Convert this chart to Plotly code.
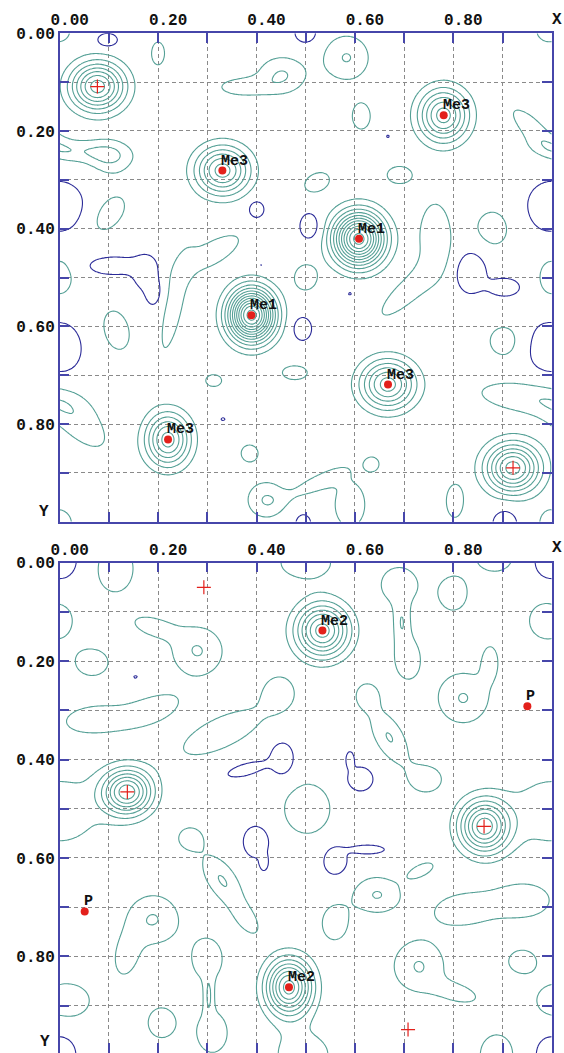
import numpy as np
import plotly.graph_objects as go

# ---------------- data ----------------
# Each density feature: centre (x, y), peak height (in contour levels, +/-),
# outer-contour semi-axes (rx, ry) and tilt angle (deg)
TOP_X = [0.077, 0.331, 0.390, 0.220, 0.780, 0.608, 0.667, 0.921, 0.995, 0.097,
         0.200, 0.452, 0.370, 0.500, 0.583, 0.613, 0.960, 0.040, 0.105, 0.667,
         0.690, 0.523, 0.000, 0.100, 0.400, 0.508, 0.110, 0.175, 0.190, 0.310,
         0.232, 0.000, 0.410, 0.996, 0.115, 0.313, 0.478, 0.590, 0.332, 0.040,
         0.930, 0.386, 0.420, 0.000, 0.590, 0.525, 0.635, 0.803, 0.905, 0.495,
         0.763, 0.705, 0.880, 0.835, 0.905, 0.905, 0.500, 0.493]
TOP_Y = [0.109, 0.281, 0.577, 0.832, 0.168, 0.421, 0.719, 0.890, -0.005, 0.014,
         0.041, 0.085, 0.110, 0.000, 0.050, 0.170, 0.195, 0.240, 0.255, 0.211,
         0.290, 0.305, 0.355, 0.370, 0.361, 0.395, 0.476, 0.490, 0.530, 0.450,
         0.560, 0.500, 0.474, 0.645, 0.608, 0.711, 0.695, 0.533, 0.790, 0.795,
         0.745, 0.860, 0.955, 1.005, 0.965, 0.920, 0.882, 0.958, 1.005, 1.005,
         0.415, 0.530, 0.400, 0.488, 0.520, 0.630, 0.500, 0.605]
TOP_H = [7.5, 6.5, 12.5, 6.5, 6.5, 11.5, 6.5, 7.5, 1.6, -2.5,
         1.6, 2.05, 1.6, -2.5, 2.05, 1.6, 1.6, 1.6, 1.6, -1.3,
         1.6, 1.6, -2.5, 1.6, -2.5, -2.5, -2.5, -2.5, -2.5, 1.6,
         1.6, 1.6, -1.3, -2.5, 1.6, 1.6, 1.6, -1.3, -1.3, 1.6,
         1.6, 1.6, 2.05, 1.6, 1.6, 1.6, 1.6, 1.6, -2.5, -2.5,
         1.6, 1.6, 1.6, -2.5, -2.5, 1.6, 1.6, -2.5]
TOP_RX = [0.076, 0.073, 0.072, 0.060, 0.067, 0.078, 0.074, 0.077, 0.025, 0.021,
          0.013, 0.045, 0.040, 0.022, 0.044, 0.018, 0.050, 0.060, 0.032, 0.003,
          0.024, 0.026, 0.050, 0.040, 0.016, 0.020, 0.050, 0.025, 0.014, 0.060,
          0.085, 0.024, 0.003, 0.048, 0.025, 0.016, 0.025, 0.004, 0.004, 0.065,
          0.072, 0.017, 0.037, 0.024, 0.030, 0.045, 0.013, 0.017, 0.025, 0.016,
          0.065, 0.065, 0.030, 0.033, 0.030, 0.030, 0.022, 0.019]
TOP_RY = [0.068, 0.066, 0.082, 0.072, 0.072, 0.082, 0.067, 0.070, 0.022, 0.014,
          0.023, 0.035, 0.015, 0.020, 0.044, 0.026, 0.018, 0.017, 0.028, 0.0025,
          0.017, 0.018, 0.052, 0.024, 0.018, 0.027, 0.018, 0.035, 0.025, 0.022,
          0.016, 0.035, 0.003, 0.055, 0.040, 0.012, 0.014, 0.003, 0.003, 0.030,
          0.025, 0.017, 0.035, 0.028, 0.045, 0.013, 0.013, 0.033, 0.030, 0.020,
          0.030, 0.020, 0.034, 0.045, 0.018, 0.029, 0.025, 0.024]
TOP_ANG = [0, 0, 0, 0, 0, 0, 0, 0, 0, 0,
           0, 0, 0, 0, 0, 0, 45, 5, 0, 0,
           0, -25, 0, -50, 0, 0, 0, 0, 0, -30,
           102, 0, 0, 0, -15, 0, 0, 0, 0, 45,
           8, 0, 0, 0, 0, -25, 0, 0, 0, 0,
           90, 137, 0, 0, 0, 0, 0, 0]

BOT_X = [0.534, 0.1375, 0.8625, 0.466, 0.000, 0.113, 0.990, 0.280, 0.190, 0.066,
         0.154, 0.445, 0.070, 0.190, 0.330, 0.078, 0.452, 0.380, 0.000, 0.503,
         0.265, 0.330, 0.380, 0.400, 0.415, 0.190, 0.135, 0.300, 0.310, 0.303,
         0.015, 0.207, 0.000, 0.495, 0.500, 0.690, 0.707, 0.695, 0.800, 0.885,
         0.820, 0.875, 0.625, 0.670, 0.745, 0.610, 0.590, 0.560, 0.625, 0.645,
         0.735, 0.820, 0.945, 0.559, 0.730, 0.810, 0.940, 0.888]
BOT_Y = [0.138, 0.466, 0.536, 0.863, -0.005, 0.012, 0.118, 0.180, 0.130, 0.203,
         0.232, 0.262, 0.318, 0.298, 0.345, 0.400, 0.400, 0.420, 0.505, 0.500,
         0.560, 0.645, 0.725, 0.567, 0.610, 0.725, 0.800, 0.805, 0.955, 0.880,
         0.890, 0.935, 1.000, 1.000, 0.000, 0.045, 0.195, 0.120, 0.063, -0.015,
         0.275, 0.200, 0.270, 0.355, 0.440, 0.440, 0.400, 0.605, 0.583, 0.675,
         0.625, 0.705, 0.687, 0.733, 0.820, 0.875, 0.810, 1.000]
BOT_H = [7.5, 7.5, 7.5, 8.5, -2.5, 1.6, 1.6, 2.05, 1.6, 1.6,
         -1.3, 1.6, 1.6, 1.6, 1.6, -1.3, -2.5, -2.5, 1.6, 1.6,
         1.6, 2.05, 1.6, -2.5, -2.5, 2.05, 1.6, 1.6, 1.6, 1.6,
         1.6, 1.6, -2.5, 1.6, 1.6, 1.6, 1.6, 1.6, 1.6, 1.6,
         2.05, 1.6, 1.6, 2.05, 1.6, -2.5, -2.5, -2.5, -2.5, 2.05,
         1.6, 1.6, 1.6, 1.6, 2.05, 1.6, 1.6, 1.6]
BOT_RX = [0.074, 0.069, 0.069, 0.066, 0.037, 0.036, 0.035, 0.050, 0.035, 0.032,
          0.004, 0.025, 0.055, 0.050, 0.085, 0.004, 0.025, 0.040, 0.070, 0.046,
          0.022, 0.055, 0.030, 0.027, 0.008, 0.050, 0.020, 0.030, 0.030, 0.007,
          0.045, 0.027, 0.033, 0.050, 0.050, 0.036, 0.025, 0.012, 0.027, 0.037,
          0.050, 0.014, 0.020, 0.055, 0.030, 0.027, 0.008, 0.025, 0.035, 0.045,
          0.025, 0.055, 0.048, 0.025, 0.050, 0.035, 0.027, 0.033]
BOT_RY = [0.074, 0.063, 0.073, 0.080, 0.040, 0.047, 0.036, 0.048, 0.016, 0.026,
          0.003, 0.027, 0.025, 0.023, 0.030, 0.003, 0.035, 0.012, 0.060, 0.050,
          0.020, 0.027, 0.015, 0.033, 0.015, 0.048, 0.035, 0.040, 0.040, 0.030,
          0.034, 0.030, 0.040, 0.040, 0.030, 0.035, 0.040, 0.030, 0.033, 0.032,
          0.050, 0.028, 0.022, 0.027, 0.025, 0.025, 0.016, 0.030, 0.009, 0.035,
          0.011, 0.030, 0.030, 0.033, 0.050, 0.015, 0.022, 0.040]
BOT_ANG = [0, 0, 0, 0, 0, 0, 0, 0, 15, 0,
           0, 0, -5, -20, -25, 0, 0, -15, 0, 0,
           0, 55, 55, 0, 0, 0, 10, 0, 0, 0,
           0, 0, 0, 0, 0, 0, 0, 0, 0, 0,
           0, 0, 0, 60, 0, 0, 0, 0, 0, 0,
           -25, -5, 0, 0, 0, 15, 0, 0]

# Atom sites (red dots with labels) and red crosses
TOP_ATOM_LBL = ["Me3", "Me3", "Me1", "Me1", "Me3", "Me3"]
TOP_ATOM_X = [0.7805, 0.3306, 0.6084, 0.3896, 0.6673, 0.2202]
TOP_ATOM_Y = [0.168, 0.281, 0.4206, 0.5774, 0.7192, 0.8316]
TOP_CROSS_X = [0.0766, 0.9214]
TOP_CROSS_Y = [0.109, 0.8896]

BOT_ATOM_LBL = ["Me2", "P", "P", "Me2"]
BOT_ATOM_X = [0.534, 0.9505, 0.0508, 0.466]
BOT_ATOM_Y = [0.138, 0.292, 0.7087, 0.863]
BOT_CROSS_X = [0.293, 0.1375, 0.8625, 0.708]
BOT_CROSS_Y = [0.050, 0.466, 0.536, 0.949]

TICK_VALS = [0.0, 0.1, 0.2, 0.3, 0.4, 0.5, 0.6, 0.7, 0.8, 0.9, 1.0]
TICK_TEXT = ["0.00", "", "0.20", "", "0.40", "", "0.60", "", "0.80", "", ""]

for arrs in [(TOP_X, TOP_Y, TOP_H, TOP_RX, TOP_RY, TOP_ANG),
             (BOT_X, BOT_Y, BOT_H, BOT_RX, BOT_RY, BOT_ANG)]:
    assert len(set(len(a) for a in arrs)) == 1, [len(a) for a in arrs]

# ---------------- style ----------------
TEAL = "#55a096"
NAVY = "#2b2b98"
FRAME = "#4646aa"
RED = "#e3201b"
GRID = "#8a8a8a"
FONT = "Liberation Mono"

W, H = 564, 1053
XL, XR = 59.7, 551.7
TOP_T, TOP_B = 33.3, 521.7
BOT_T = 562.7


def density(px, py, ph, rx, ry, ang, n=321):
    g = np.linspace(0.0, 1.0, n)
    X, Y = np.meshgrid(g, g)
    Z = np.zeros_like(X)
    for x0, y0, h, a, b, t in zip(px, py, ph, rx, ry, ang):
        f = np.sqrt(2.0 * np.log(abs(h)))  # outer contour radius -> sigma
        sa, sb = a / f, b / f
        dx = (X - x0 + 0.5) % 1.0 - 0.5
        dy = Y - y0
        th = np.deg2rad(t)
        u = dx * np.cos(th) + dy * np.sin(th)
        v = -dx * np.sin(th) + dy * np.cos(th)
        Z += h * np.exp(-0.5 * ((u / sa) ** 2 + (v / sb) ** 2))
    return g, Z


fig = go.Figure()

panels = [
    ("x", "y", (TOP_X, TOP_Y, TOP_H, TOP_RX, TOP_RY, TOP_ANG),
     TOP_ATOM_LBL, TOP_ATOM_X, TOP_ATOM_Y, TOP_CROSS_X, TOP_CROSS_Y),
    ("x2", "y2", (BOT_X, BOT_Y, BOT_H, BOT_RX, BOT_RY, BOT_ANG),
     BOT_ATOM_LBL, BOT_ATOM_X, BOT_ATOM_Y, BOT_CROSS_X, BOT_CROSS_Y),
]

for xa, ya, feats, lbl, ax_, ay_, cx, cy in panels:
    g, Z = density(*feats)
    fig.add_trace(go.Contour(
        x=g, y=g, z=Z, xaxis=xa, yaxis=ya,
        contours=dict(start=1, end=20, size=1, coloring="lines"),
        colorscale=[[0, TEAL], [1, TEAL]], showscale=False,
        line=dict(width=1.1), hoverinfo="skip"))
    fig.add_trace(go.Contour(
        x=g, y=g, z=Z, xaxis=xa, yaxis=ya,
        contours=dict(start=-1, end=-1, size=1, coloring="lines"),
        colorscale=[[0, NAVY], [1, NAVY]], showscale=False,
        line=dict(width=1.1), hoverinfo="skip"))
    fig.add_trace(go.Scatter(
        x=cx, y=cy, xaxis=xa, yaxis=ya, mode="markers",
        marker=dict(symbol="cross-thin", size=10, color=RED,
                    line=dict(color=RED, width=1.2)),
        hoverinfo="skip"))
    fig.add_trace(go.Scatter(
        x=ax_, y=ay_, xaxis=xa, yaxis=ya, mode="markers",
        marker=dict(size=8, color=RED), hoverinfo="skip"))
    for t, x0, y0 in zip(lbl, ax_, ay_):
        fig.add_annotation(
            x=x0, y=y0, xref=xa, yref=ya, text=t, showarrow=False,
            xanchor="left", yanchor="bottom", xshift=-3, yshift=-1,
            font=dict(family=FONT, size=15, color="#111111", weight="bold"))

axis_common = dict(
    tickmode="array", tickvals=TICK_VALS, ticktext=TICK_TEXT,
    ticks="inside", ticklen=10, tickwidth=1.5, tickcolor=FRAME,
    showline=True, linecolor=FRAME, linewidth=1.5, mirror="ticks",
    showgrid=True, gridcolor=GRID, gridwidth=1, griddash="4px,3px",
    zeroline=False, fixedrange=True, automargin=False,
    tickfont=dict(family=FONT, size=16, color="#111111", weight="bold"),
)

xdom = [XL / W, XR / W]
fig.update_layout(
    width=W, height=H, margin=dict(l=0, r=0, t=0, b=0, pad=0),
    autosize=False,
    paper_bgcolor="white", plot_bgcolor="white", showlegend=False,
    xaxis=dict(domain=xdom, range=[0, 1], side="top", anchor="y",
               ticklabelshift=10, **axis_common),
    yaxis=dict(domain=[1 - TOP_B / H, 1 - TOP_T / H], range=[1, 0],
               anchor="x", **axis_common),
    xaxis2=dict(domain=xdom, range=[0, 1], side="top", anchor="y2",
                ticklabelshift=10, **axis_common),
    yaxis2=dict(domain=[0, 1 - BOT_T / H],
                range=[(H - BOT_T) / (XR - XL), 0], anchor="x2",
                **axis_common),
)

for (xp, yp, t, ya_) in [(557, 20, "X", "middle"), (557, 548, "X", "middle"),
                         (44, 512, "Y", "middle"), (45, 1053, "Y", "bottom")]:
    fig.add_annotation(x=xp / W, y=1 - yp / H, xref="paper", yref="paper",
                       text=t, showarrow=False, xanchor="center", yanchor=ya_,
                       font=dict(family=FONT, size=16, color="#111111", weight="bold"))

fig.write_html("out.html", config={"displayModeBar": False},
               post_script="document.body.style.margin='0';")
